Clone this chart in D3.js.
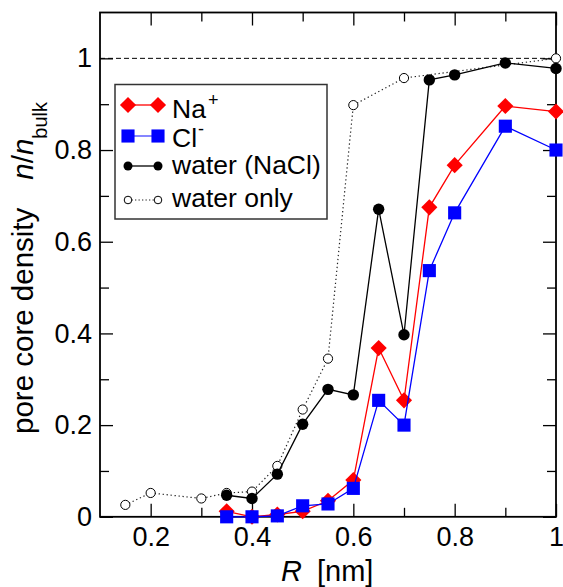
<!DOCTYPE html>
<html>
<head>
<meta charset="utf-8">
<script src="https://cdn.jsdelivr.net/npm/d3@7"></script>
<style>
  html, body { margin: 0; padding: 0; background: #fff; }
  svg { display: block; font-family: "Liberation Sans", Arial, Helvetica, sans-serif; }
</style>
</head>
<body>
<svg id="chart" width="563" height="587"></svg>
<script>
// ---------- data ----------
const ionR = [0.35, 0.4, 0.45, 0.5, 0.55, 0.6, 0.65, 0.7, 0.75, 0.8, 0.9, 1.0];
const naValues = [0.012, 0.0, 0.005, 0.012, 0.035, 0.08, 0.368, 0.254, 0.675, 0.767, 0.896, 0.884];
const clValues = [0.0, 0.0, 0.002, 0.024, 0.028, 0.062, 0.254, 0.2, 0.537, 0.663, 0.852, 0.80];
const waterNaClValues = [0.047, 0.040, 0.093, 0.202, 0.278, 0.266, 0.671, 0.397, 0.953, 0.964, 0.990, 0.978];
const waterOnlyR = [0.15, 0.2, 0.3, 0.35, 0.4, 0.45, 0.5, 0.55, 0.6, 0.7, 1.0];
const waterOnlyValues = [0.026, 0.052, 0.040, 0.052, 0.055, 0.111, 0.234, 0.345, 0.898, 0.957, 1.0];
const xMajorTicks = [0.2, 0.4, 0.6, 0.8, 1.0];
const xMinorTicks = [0.3, 0.5, 0.7, 0.9];
const yMajorTicks = [0, 0.2, 0.4, 0.6, 0.8, 1.0];
const yMinorTicks = [0.1, 0.3, 0.5, 0.7, 0.9];
const xDomain = [0.1, 1.0];
const yDomain = [0, 1.1];
const referenceLevel = 1.0;
const legendLabels = ["Na", "Cl", "water (NaCl)", "water only"];

// ---------- layout ----------
const svg = d3.select("#chart");
const L = 100, R = 556, T = 12.5, B = 516.8;
const x = d3.scaleLinear().domain(xDomain).range([L, R]);
const y = d3.scaleLinear().domain(yDomain).range([B, T]);
const fmt = d => String(+d.toFixed(1));
const tickFont = 27;

// reference dashed line
svg.append("line")
  .attr("x1", x(xDomain[0])).attr("x2", x(xDomain[1]))
  .attr("y1", y(referenceLevel)).attr("y2", y(referenceLevel))
  .attr("stroke", "#000").attr("stroke-width", 1)
  .attr("stroke-dasharray", "5,3");

// axes
function styleAxis(g) {
  g.select(".domain").remove();
  g.selectAll(".tick line").attr("stroke", "#000").attr("stroke-width", 1.3);
  g.selectAll(".tick text").attr("fill", "#000").style("font-size", tickFont + "px")
    .style("font-family", "'Liberation Sans', Arial, Helvetica, sans-serif");
}
svg.append("g").attr("transform", `translate(0,${B})`)
  .call(d3.axisBottom(x).tickValues(xMajorTicks).tickSize(-13).tickPadding(10).tickFormat(fmt))
  .call(styleAxis);
svg.append("g").attr("transform", `translate(0,${B})`)
  .call(d3.axisBottom(x).tickValues(xMinorTicks).tickSize(-9).tickFormat(""))
  .call(styleAxis);
svg.append("g").attr("transform", `translate(0,${T})`)
  .call(d3.axisTop(x).tickValues(xMajorTicks).tickSize(-13).tickFormat(""))
  .call(styleAxis);
svg.append("g").attr("transform", `translate(0,${T})`)
  .call(d3.axisTop(x).tickValues(xMinorTicks).tickSize(-9).tickFormat(""))
  .call(styleAxis);
svg.append("g").attr("transform", `translate(${L},0)`)
  .call(d3.axisLeft(y).tickValues(yMajorTicks).tickSize(-13).tickPadding(8).tickFormat(fmt))
  .call(styleAxis);
svg.append("g").attr("transform", `translate(${L},0)`)
  .call(d3.axisLeft(y).tickValues(yMinorTicks).tickSize(-9).tickFormat(""))
  .call(styleAxis);
svg.append("g").attr("transform", `translate(${R},0)`)
  .call(d3.axisRight(y).tickValues(yMajorTicks).tickSize(-13).tickFormat(""))
  .call(styleAxis);
svg.append("g").attr("transform", `translate(${R},0)`)
  .call(d3.axisRight(y).tickValues(yMinorTicks).tickSize(-9).tickFormat(""))
  .call(styleAxis);

// frame
svg.append("rect").attr("x", L).attr("y", T).attr("width", R - L).attr("height", B - T)
  .attr("fill", "none").attr("stroke", "#000").attr("stroke-width", 1.8);

const line = d3.line().x(d => x(d[0])).y(d => y(d[1]));
const diamond = d3.symbol(d3.symbolSquare, 130);
const square = d3.symbol(d3.symbolSquare, 172);

// water only
const wo = waterOnlyR.map((r, i) => [r, waterOnlyValues[i]]);
svg.append("path").datum(wo).attr("d", line).attr("fill", "none")
  .attr("stroke", "#222").attr("stroke-width", 1.2).attr("stroke-dasharray", "1.3,2.7");
svg.append("g").selectAll("circle").data(wo).join("circle")
  .attr("cx", d => x(d[0])).attr("cy", d => y(d[1])).attr("r", 4.6)
  .attr("fill", "#fff").attr("stroke", "#000").attr("stroke-width", 1);

// water (NaCl)
const wn = ionR.map((r, i) => [r, waterNaClValues[i]]);
svg.append("path").datum(wn).attr("d", line).attr("fill", "none")
  .attr("stroke", "#000").attr("stroke-width", 1.3);
svg.append("g").selectAll("circle").data(wn).join("circle")
  .attr("cx", d => x(d[0])).attr("cy", d => y(d[1])).attr("r", 5.7).attr("fill", "#000");

// Na+
const na = ionR.map((r, i) => [r, naValues[i]]);
svg.append("path").datum(na).attr("d", line).attr("fill", "none")
  .attr("stroke", "#ff0000").attr("stroke-width", 1.3);
svg.append("g").selectAll("path").data(na).join("path")
  .attr("d", diamond).attr("fill", "#ff0000")
  .attr("transform", d => `translate(${x(d[0])},${y(d[1])}) rotate(45)`);

// Cl-
const cl = ionR.map((r, i) => [r, clValues[i]]);
svg.append("path").datum(cl).attr("d", line).attr("fill", "none")
  .attr("stroke", "#0000ff").attr("stroke-width", 1.3);
svg.append("g").selectAll("path").data(cl).join("path")
  .attr("d", square).attr("fill", "#0000ff")
  .attr("transform", d => `translate(${x(d[0])},${y(d[1])})`);

// legend
const lg = svg.append("g");
lg.append("rect").attr("x", 115).attr("y", 84.5).attr("width", 212).attr("height", 134.5)
  .attr("fill", "#fff").attr("stroke", "#333").attr("stroke-width", 1.5);
const lx1 = 128, lx2 = 158, tx = 172;
const rowMarker = [105, 136, 166, 200];
const rowText = [117.5, 146.5, 173.5, 206.5];
const legendFont = 26.5;
// Na row
lg.append("line").attr("x1", lx1).attr("x2", lx2).attr("y1", rowMarker[0]).attr("y2", rowMarker[0])
  .attr("stroke", "#ff0000").attr("stroke-width", 1.3);
[lx1, lx2].forEach(px => lg.append("path").attr("d", diamond).attr("fill", "#ff0000")
  .attr("transform", `translate(${px},${rowMarker[0]}) rotate(45)`));
// Cl row
lg.append("line").attr("x1", lx1).attr("x2", lx2).attr("y1", rowMarker[1]).attr("y2", rowMarker[1])
  .attr("stroke", "#4444ff").attr("stroke-width", 1.3);
[lx1, lx2].forEach(px => lg.append("path").attr("d", square).attr("fill", "#0000ff")
  .attr("transform", `translate(${px},${rowMarker[1]})`));
// water NaCl row
lg.append("line").attr("x1", lx1).attr("x2", lx2).attr("y1", rowMarker[2]).attr("y2", rowMarker[2])
  .attr("stroke", "#000").attr("stroke-width", 1.3);
[lx1, lx2].forEach(px => lg.append("circle").attr("cx", px).attr("cy", rowMarker[2]).attr("r", 4.5).attr("fill", "#000"));
// water only row
lg.append("line").attr("x1", lx1).attr("x2", lx2).attr("y1", rowMarker[3]).attr("y2", rowMarker[3])
  .attr("stroke", "#222").attr("stroke-width", 1.1).attr("stroke-dasharray", "1.3,2.2");
[lx1, lx2].forEach(px => lg.append("circle").attr("cx", px).attr("cy", rowMarker[3]).attr("r", 3.8)
  .attr("fill", "#fff").attr("stroke", "#000").attr("stroke-width", 1));

const t0 = lg.append("text").attr("x", tx).attr("y", rowText[0]).style("font-size", legendFont + "px");
t0.append("tspan").text(legendLabels[0]);
t0.append("tspan").attr("dy", -12).attr("dx", 2).style("font-size", "18px").text("+");
const t1 = lg.append("text").attr("x", tx).attr("y", rowText[1]).style("font-size", legendFont + "px");
t1.append("tspan").text(legendLabels[1]);
t1.append("tspan").attr("dy", -12).attr("dx", 1).style("font-size", "18px").text("-");
lg.append("text").attr("x", tx).attr("y", rowText[2]).style("font-size", legendFont + "px").text(legendLabels[2]);
lg.append("text").attr("x", tx).attr("y", rowText[3]).style("font-size", legendFont + "px").text(legendLabels[3]);

// axis titles
const xt = svg.append("text").attr("x", 281).attr("y", 581).style("font-size", "29px");
xt.append("tspan").style("font-style", "italic").text("R");
xt.append("tspan").attr("dx", 15).text("[nm]");

const yt = svg.append("text").attr("transform", "translate(33,434) rotate(-90)").style("font-size", "29.5px");
yt.append("tspan").text("pore core density");
yt.append("tspan").attr("dx", 28).style("font-style", "italic").text("n");
yt.append("tspan").text("/");
yt.append("tspan").style("font-style", "italic").text("n");
yt.append("tspan").attr("dy", 14).style("font-size", "20px").text("bulk");
</script>
</body>
</html>
